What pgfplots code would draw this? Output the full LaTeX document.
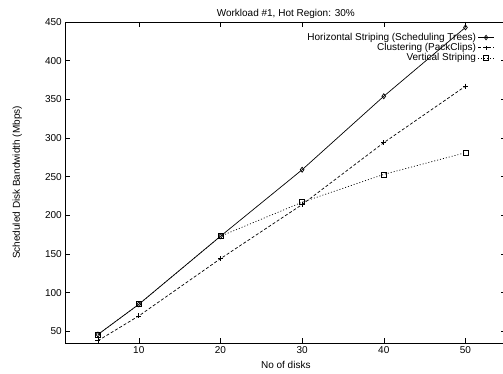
\documentclass[border=0pt]{standalone}
\usepackage{fontspec}
\setmainfont{Liberation Sans}
\usepackage{pgfplots}
\pgfplotsset{compat=1.18}
\begin{document}
\fontsize{10}{12}\selectfont
\begin{tikzpicture}
\useasboundingbox (-65.3pt,-31pt) rectangle (437.7pt,343pt);
\begin{axis}[
  at={(0,0)}, anchor=south west,
  scale only axis, width=441pt, height=321pt,
  xmin=1, xmax=55, ymin=35, ymax=450,
  xtick={10,20,30,40,50},
  ytick={50,100,...,450},
  /pgf/number format/assume math mode=true,
  tick label style={font=\fontsize{10}{12}\selectfont},
  major tick length=5pt,
  tick align=inside,
  tick pos=both,
  axis line style={line width=0.8pt},
  every tick/.style={line width=0.6pt, black},
  title={Workload \#1, Hot Region: 30\%},
  every axis title shift=0pt,
  title style={at={(axis description cs:0.5,1)}, anchor=center, yshift=8.5pt, font=\fontsize{10}{12}\selectfont},
  xlabel={No of disks},
  xlabel style={at={(axis description cs:0.5,-0.0685)}, anchor=center, font=\fontsize{10}{12}\selectfont},
  ylabel={Scheduled Disk Bandwidth (Mbps)},
  ylabel style={at={(axis description cs:-0.109,0.5)}, anchor=center, font=\fontsize{10}{12}\selectfont},
  legend plot pos=right,
  legend cell align=right,
  legend style={draw=none, fill=none, at={(axis description cs:1,1)}, anchor=north east,
    xshift=-11pt, yshift=-8pt, font=\fontsize{10}{10}\selectfont,
    row sep=-2.5pt, inner sep=1pt},
  legend image post style={scale=0.9},
]
\addplot[black, line width=0.7pt, mark=diamond, mark size=2.5pt, mark options={solid, line width=0.7pt}]
  coordinates {(5,46) (10,85) (20,173) (30,259) (40,354) (50,443)};
\addlegendentry{Horizontal Striping (Scheduling Trees)}
\addplot[black, line width=0.7pt, dash pattern=on 3pt off 2pt, mark=+, mark size=2.5pt, mark options={solid, line width=0.7pt}]
  coordinates {(5,38) (10,70) (20,144) (30,214) (40,294) (50,367)};
\addlegendentry{Clustering (PackClips)}
\addplot[black, line width=0.7pt, dash pattern=on 1pt off 2pt, mark=square, mark size=2.5pt, mark options={solid, line width=0.7pt}]
  coordinates {(5,46) (10,85) (20,173) (30,217) (40,253) (50,281)};
\addlegendentry{Vertical Striping}
\end{axis}
\end{tikzpicture}
\end{document}
